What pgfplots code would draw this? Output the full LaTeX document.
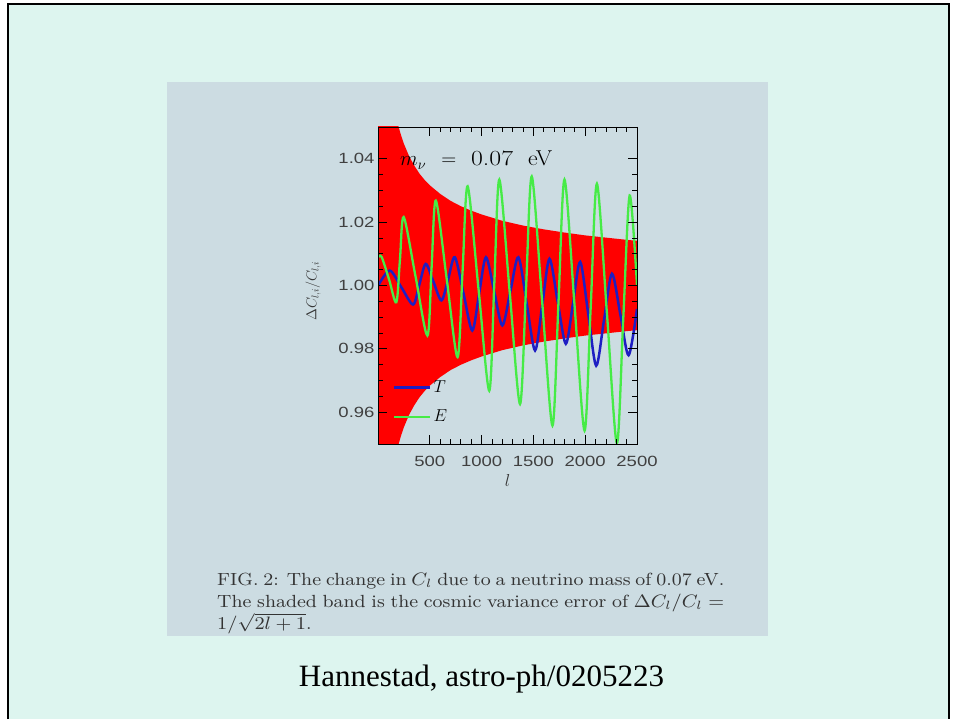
\documentclass[border=0pt]{standalone}
\usepackage{pgfplots}
\pgfplotsset{compat=1.18}
\usepackage{pgfplotstable}
\usepackage{graphicx}
\usepackage{fontspec}
\newfontfamily\idl[FakeStretch=1.25]{Liberation Sans}
\newfontfamily\slidefont{Liberation Serif}
\definecolor{mint}{RGB}{221,245,239}
\definecolor{panel}{RGB}{204,220,226}
\definecolor{tblue}{RGB}{30,30,195}
\definecolor{egreen}{RGB}{70,235,70}

% cosmic-variance band: upper edge left to right, then lower edge right to left
\pgfplotstableread{
l v
2 1.4472
10 1.2182
20 1.1562
30 1.1280
50 1.0995
75 1.0814
100 1.0705
125 1.0631
150 1.0576
175 1.0534
200 1.0499
225 1.0471
250 1.0447
300 1.0408
350 1.0378
400 1.0353
450 1.0333
500 1.0316
600 1.0289
700 1.0267
800 1.0250
900 1.0236
1000 1.0224
1200 1.0204
1400 1.0189
1600 1.0177
1800 1.0167
2000 1.0158
2200 1.0151
2400 1.0144
2500 1.0141
2500 0.9859
2400 0.9856
2200 0.9849
2000 0.9842
1800 0.9833
1600 0.9823
1400 0.9811
1200 0.9796
1000 0.9776
900 0.9764
800 0.9750
700 0.9733
600 0.9711
500 0.9684
450 0.9667
400 0.9647
350 0.9622
300 0.9592
250 0.9553
225 0.9529
200 0.9501
175 0.9466
150 0.9424
125 0.9369
100 0.9295
75 0.9186
50 0.9005
30 0.8720
20 0.8438
10 0.7818
2 0.5528
}\band

\pgfplotstableread{
l v
2 1.0000
113 1.0047
226 0.9994
339 0.9940
400 1.0004
461 1.0068
537 1.0010
613 0.9953
678 1.0021
742 1.0089
826 0.9974
910 0.9858
976 0.9974
1042 1.0089
1121 0.9982
1200 0.9874
1278 0.9982
1355 1.0089
1436 0.9942
1516 0.9795
1586 0.9940
1655 1.0084
1734 0.9950
1813 0.9816
1883 0.9945
1952 1.0074
2029 0.9911
2106 0.9747
2182 0.9892
2258 1.0037
2339 0.9909
2419 0.9780
2500 0.9926
}\Tdata

\pgfplotstableread{
l v
2 1.0090
35 1.0090
106 1.0020
177 0.9947
212 1.0082
248 1.0216
362 1.0029
477 0.9842
517 1.0055
558 1.0268
663 1.0021
768 0.9774
816 1.0043
865 1.0313
970 0.9990
1074 0.9668
1122 1.0001
1171 1.0334
1271 0.9980
1371 0.9626
1428 0.9985
1484 1.0344
1584 0.9951
1684 0.9558
1742 0.9946
1800 1.0334
1897 0.9938
1994 0.9542
2053 0.9931
2113 1.0321
2210 0.9911
2306 0.9502
2367 0.9893
2429 1.0284
2500 1.0000
}\Edata

\begin{document}
\begin{tikzpicture}[x=1pt,y=1pt]
\fill[white] (0pt,0pt) rectangle (957pt,719pt);
\fill[mint] (8pt,0pt) rectangle (949pt,715pt);
\draw[line width=1.8pt] (8pt,0pt) -- (8pt,715pt) -- (949pt,715pt) -- (949pt,0pt);
\fill[panel] (167pt,83pt) rectangle (768pt,637pt);
\begin{axis}[
  at={(378pt,275pt)}, anchor=south west,
  width=259pt, height=317pt, scale only axis,
  xmin=0, xmax=2500, ymin=0.95, ymax=1.05,
  xtick={500,1000,1500,2000,2500},
  xticklabels={500,1000,1500,2000,2500},
  ytick={0.96,0.98,1.00,1.02,1.04},
  yticklabels={0.96,0.98,1.00,1.02,1.04},
  minor x tick num=4, minor y tick num=3,
  tick align=inside,
  major tick length=9pt, minor tick length=5pt,
  tick style={black, line width=0.8pt},
  axis line style={black, line width=0.9pt},
  axis on top,
  tick label style={font=\idl\fontsize{14.8}{16}\selectfont, text=black!75},
  xticklabel style={yshift=-9pt},
  legend style={draw=none, fill=none, at={(0.058,0.058)}, anchor=south west,
    font=\fontsize{17.5}{17.5}\selectfont, row sep=12pt, inner sep=0pt,
    nodes={inner sep=2pt}},
  legend image code/.code={\draw[#1] (0pt,0pt) -- (36pt,0pt);},
  legend cell align=left,
]
\addplot[fill=red, draw=none, forget plot] table[x=l,y=v]{\band};
\addplot[tblue, line width=2.5pt, smooth] table[x=l,y=v]{\Tdata};
\addlegendentry{$T$}
\addplot[egreen, line width=2.3pt, smooth] table[x=l,y=v]{\Edata};
\addlegendentry{$E$}
\end{axis}
\node[anchor=base west, inner sep=0pt] at (400pt,553pt)
  {\fontsize{21.5}{21.5}\selectfont\hbox to 152pt{$m_\nu$\hfil$=$\hfil\scalebox{1.2}[1]{0.07}\hfil\scalebox{1.1}[1]{eV}}};
\node[rotate=90, inner sep=0pt, text=black!80] at (313pt,428pt)
  {\fontsize{14}{14}\selectfont$\Delta C_{l,i}/C_{l,i}$};
\node[inner sep=0pt, text=black!80] at (507.5pt,238pt) {\fontsize{17}{17}\selectfont$l$};
\node[anchor=base west, inner sep=0pt] at (217pt,146pt)
  {\scalebox{2.2}[2]{\begin{minipage}[t]{230.5pt}\fontsize{8.8}{11}\selectfont\color{black!80}
  FIG.~2: The change in $C_l$ due to a neutrino mass of 0.07~eV.\linebreak
  The shaded band is the cosmic variance error of $\Delta C_l/C_l =$\linebreak
  $1/\sqrt{2l+1}$.\end{minipage}}};
\node[anchor=base, inner sep=0pt] at (481.5pt,33pt)
  {\slidefont\fontsize{31}{31}\selectfont Hannestad, astro-ph/0205223};
\end{tikzpicture}
\end{document}
